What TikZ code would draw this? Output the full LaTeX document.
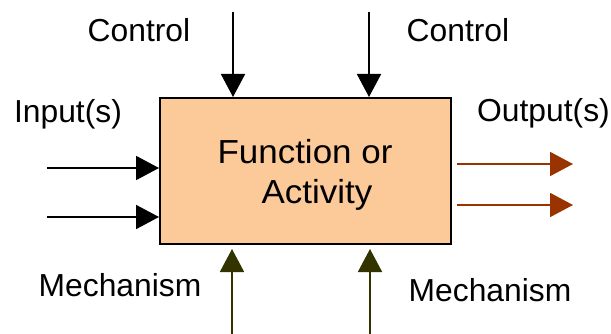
\documentclass[tikz,border=0pt]{standalone}
\usepackage{fontspec}
\setmainfont{Liberation Sans}
\usetikzlibrary{arrows.meta}
\definecolor{boxfill}{RGB}{252,201,152}
\definecolor{outbrown}{RGB}{153,51,0}
\definecolor{mecholive}{RGB}{51,51,0}
\begin{document}
\begin{tikzpicture}[x=1pt,y=-1pt,
  lbl/.style={anchor=base,inner sep=0pt,font=\fontsize{31.8}{36}\selectfont},
  btxt/.style={anchor=base,inner sep=0pt,font=\fontsize{33.3}{38}\selectfont,xscale=1.05},
  flow/.style={line width=1.8pt,-{Triangle[length=23pt,width=24pt]}},
  fbox/.style={draw=black,line width=2pt,fill=boxfill,minimum width=291pt,minimum height=146pt,inner sep=0pt}]
\useasboundingbox (0,0) rectangle (611,334);
\node[fbox] (box) at (305.5,171) {};
\node[btxt] (t1) at (305,164) {Function or};
\node[btxt] (t2) at (317,204) {Activity};
\node[lbl] (lc1) at (139,41.7) {Control};
\node[lbl] (lc2) at (458,41.7) {Control};
\node[lbl] (lin) at (68,122.5) {Input(s)};
\node[lbl] (lout) at (543.5,121.7) {Output(s)};
\node[lbl] (lm1) at (120,296) {Mechanism};
\node[lbl] (lm2) at (490,301) {Mechanism};
\coordinate (c1) at (233,12);
\coordinate (c2) at (369,12);
\coordinate (i1) at (47,168);
\coordinate (i2) at (47,217);
\coordinate (o1) at (573,164);
\coordinate (o2) at (573,205);
\coordinate (m1) at (232,334);
\coordinate (m2) at (370,334);
\draw[flow] (c1) -- (c1 |- box.north);
\draw[flow] (c2) -- (c2 |- box.north);
\draw[flow] (i1) -- (i1 -| box.west);
\draw[flow] (i2) -- (i2 -| box.west);
\draw[flow,draw=outbrown,fill=outbrown,shorten <=5pt] (o1 -| box.east) -- (o1);
\draw[flow,draw=outbrown,fill=outbrown,shorten <=5pt] (o2 -| box.east) -- (o2);
\draw[flow,draw=mecholive,fill=mecholive,shorten >=4pt] (m1) -- (m1 |- box.south);
\draw[flow,draw=mecholive,fill=mecholive,shorten >=4pt] (m2) -- (m2 |- box.south);
\end{tikzpicture}
\end{document}
